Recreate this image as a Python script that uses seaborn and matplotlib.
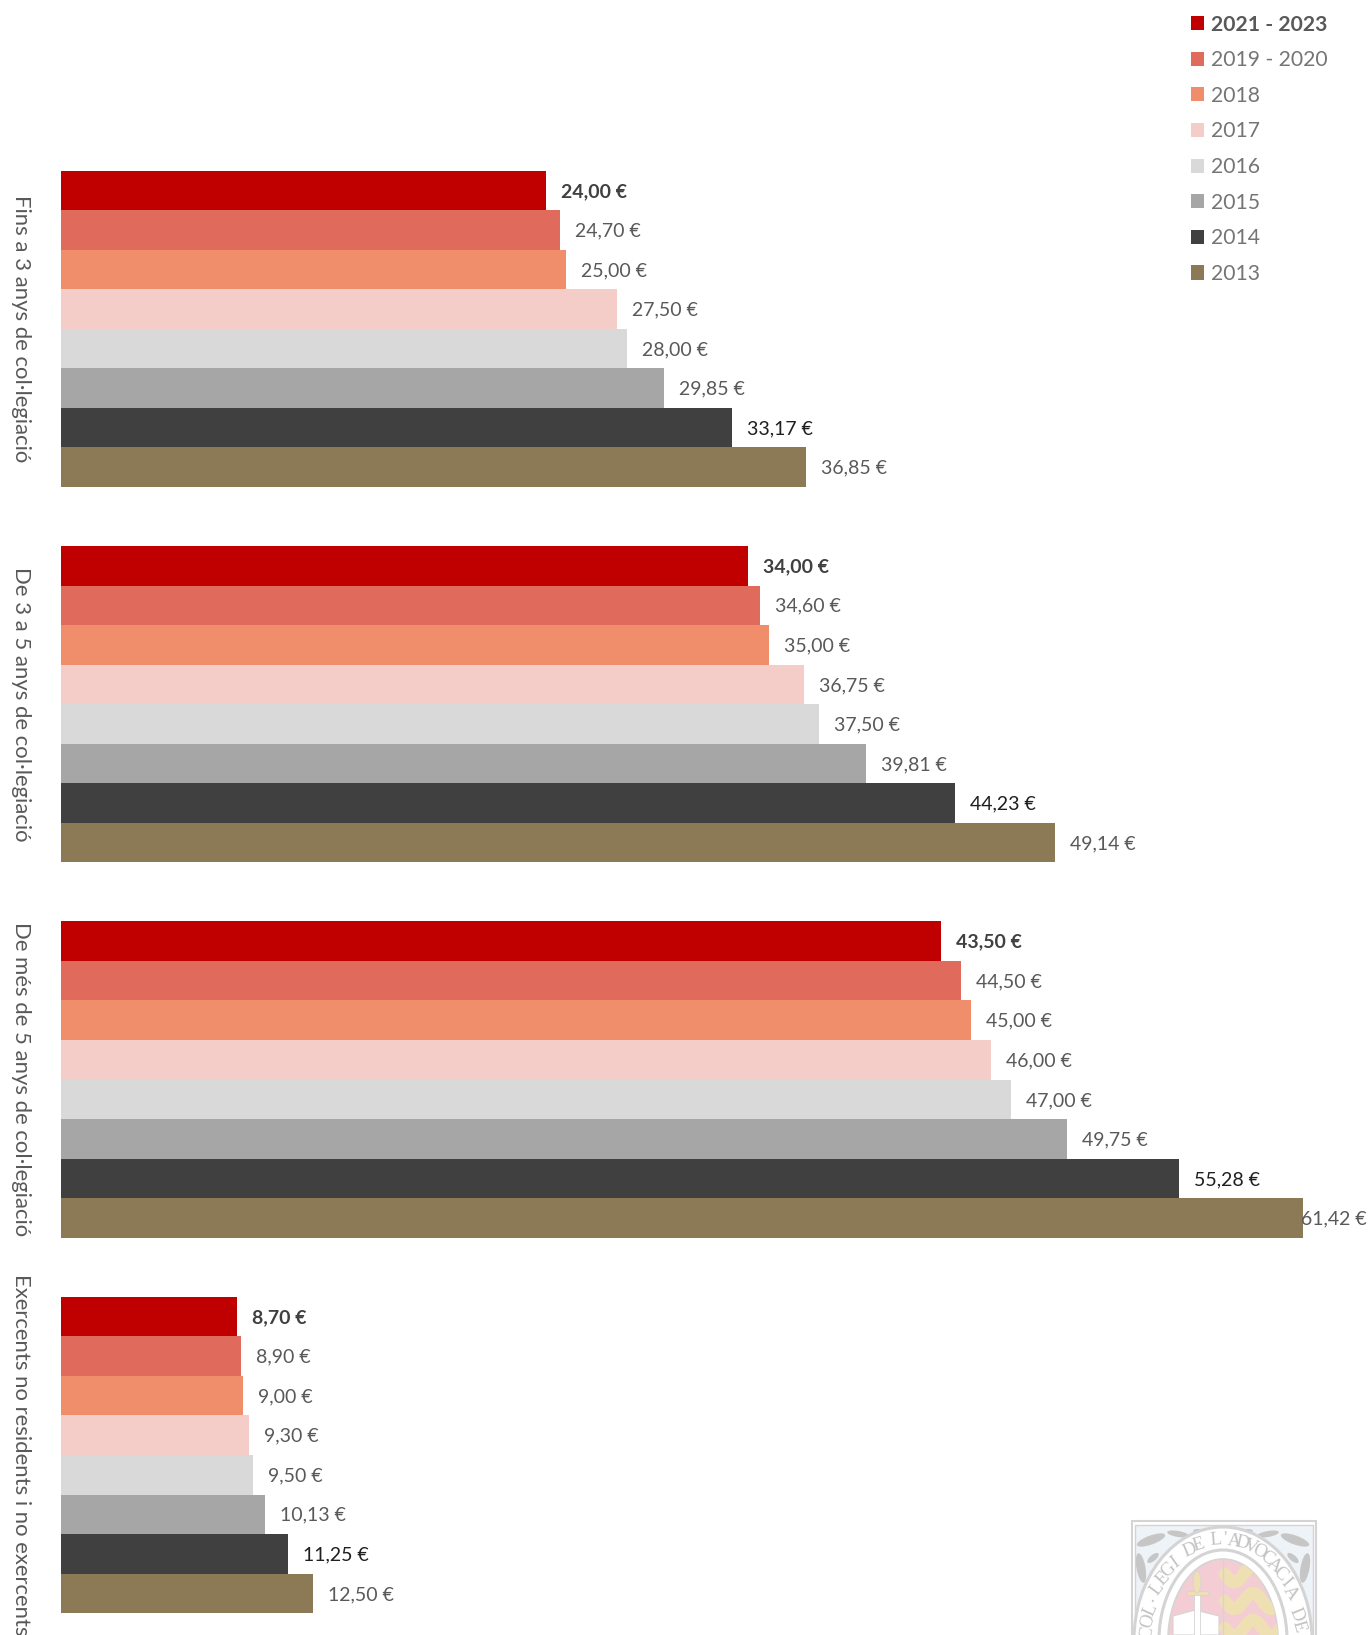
import numpy as np
import pandas as pd
import matplotlib
matplotlib.use("Agg")
import matplotlib.pyplot as plt
from matplotlib.patches import Ellipse, Rectangle, Polygon
import seaborn as sns

categories = ["Fins a 3 anys de col·legiació", "De 3 a 5 anys de col·legiació",
              "De més de 5 anys de col·legiació", "Exercents no residents i no exercents"]
periods = ["2021 - 2023", "2019 - 2020", "2018", "2017", "2016", "2015", "2014", "2013"]
v_2021_2023 = [24.00, 34.00, 43.50, 8.70]
v_2019_2020 = [24.70, 34.60, 44.50, 8.90]
v_2018 = [25.00, 35.00, 45.00, 9.00]
v_2017 = [27.50, 36.75, 46.00, 9.30]
v_2016 = [28.00, 37.50, 47.00, 9.50]
v_2015 = [29.85, 39.81, 49.75, 10.13]
v_2014 = [33.17, 44.23, 55.28, 11.25]
v_2013 = [36.85, 49.14, 61.42, 12.50]
series = [v_2021_2023, v_2019_2020, v_2018, v_2017, v_2016, v_2015, v_2014, v_2013]
colors = ["#C00000", "#E06B5C", "#F08D6A", "#F4CDC8", "#D9D9D9", "#A6A6A6", "#404040", "#8B7A55"]

df = pd.DataFrame([
    {"cat": c, "period": p, "value": vals[i]}
    for p, vals in zip(periods, series) for i, c in enumerate(categories)
])

W, H = 1370, 1635
sns.set_theme(style="white")
plt.rcParams["font.family"] = ["Lato", "DejaVu Sans"]
fig = plt.figure(figsize=(W / 100, H / 100), dpi=100, facecolor="white")

# watermark logo (decoration behind the chart)
bg = fig.add_axes([0, 0, 1, 1], zorder=0)
bg.set_xlim(0, W); bg.set_ylim(H, 0); bg.axis("off")
g = "#d4d4d4"
bg.add_patch(Rectangle((1132, 1521), 184, 130, fc="white", ec=g, lw=1.5))
bg.add_patch(Rectangle((1135, 1525), 178, 130, fc="#eef3f7", ec=g, lw=1))
cx, cy = 1223, 1640
for sx in (-1, 1):
    for dx, dy, w_, h_, a in [(72, -100, 30, 9, 20), (45, -106, 22, 6, -10), (82, -72, 9, 30, 10),
                              (70, -82, 14, 6, 40), (24, -109, 12, 4, 0)]:
        bg.add_patch(Ellipse((cx + sx * dx, cy + dy), w_, h_, angle=sx * a, fc="#c6c6c6", ec="none"))
bg.add_patch(Ellipse((cx, cy), 178, 226, fc="white", ec=g, lw=2.2))
bg.add_patch(Ellipse((cx, cy), 128, 180, fc="white", ec=g, lw=2.2))
shield = Ellipse((cx, cy), 110, 162, fc="#f3cdd3", ec=g, lw=1.2)
bg.add_patch(shield)
for yy in [1574, 1601, 1628]:
    t = np.linspace(0, 1, 30)
    wave = bg.plot(cx + 2 + 56 * t, yy + 8 * np.sin(t * 2 * np.pi * 1.5), color="#efe0b4", lw=9,
                   solid_capstyle="round")[0]
    wave.set_clip_path(shield)
bg.plot([cx, cx], [cy - 81, H], color=g, lw=1)
bg.add_patch(Polygon([[cx - 50, 1616], [cx - 28, 1610], [cx - 4, 1616], [cx - 4, H], [cx - 50, H]],
                     fc="white", ec=g, lw=.8))
bg.add_patch(Rectangle((cx - 29, 1593), 6, 45, fc="white", ec=g, lw=.6))
bg.add_patch(Rectangle((cx - 36, 1591), 21, 4, fc="#efe0b4", ec=g, lw=.6))
bg.add_patch(Ellipse((cx - 26, 1582), 8, 22, fc="#efe0b4", ec=g, lw=.6))
arc_text = "COL·LEGI DE L'ADVOCACIA DE"
angles = np.linspace(-86, 82, len(arc_text))
for ch, a in zip(arc_text, angles):
    r = np.deg2rad(a)
    bg.text(cx + 76 * np.sin(r), cy - 100 * np.cos(r), ch, rotation=-a * 0.9, ha="center", va="center",
            fontsize=13.5, family="Liberation Serif", color="#c4c4c4")

# chart
ax = fig.add_axes([60.5 / W, (H - 1642.7) / H, 1309.5 / W, 1501.6 / H], zorder=1)
ax.patch.set_alpha(0)
sns.barplot(data=df, y="cat", x="value", hue="period", order=categories, hue_order=periods,
            palette=colors, width=0.843, gap=0, saturation=1, dodge=True, errorbar=None, ax=ax, linewidth=0)
ax.set_xlim(0, 1309.5 / 20.23)
ax.set_ylim(3.5, -0.5)
ax.set_xlabel(""); ax.set_ylabel("")
ax.xaxis.set_visible(False)
sns.despine(ax=ax, left=True, bottom=True, top=True, right=True)
ax.tick_params(axis="y", length=0, pad=21)
for lab in ax.get_yticklabels():
    lab.set_rotation(270)
    lab.set_va("center")
    lab.set_fontsize(15.9)
    lab.set_color("#595959")

for k, (cont, p) in enumerate(zip(ax.containers, periods)):
    for b in cont.patches:
        val = b.get_width()
        txt = f"{val:.2f}".replace(".", ",") + " €"
        pad = -2 if val > 60 else 15
        col = "#404040" if k == 0 else ("#1f1f1f" if p == "2014" else "#595959")
        ax.annotate(txt, (val, b.get_y() + b.get_height() / 2), xytext=(pad, -1),
                    textcoords="offset pixels", va="center", ha="left", fontsize=14,
                    color=col, fontweight="bold" if k == 0 else "normal", annotation_clip=False)

leg = ax.get_legend()
handles = leg.legend_handles
leg.remove()
leg = fig.legend(handles, periods, loc="upper left", bbox_to_anchor=(1180 / W, 1 - 4.0 / H), frameon=False,
                 fontsize=15.2, labelspacing=0.74, handlelength=0.65, handleheight=0.65, handletextpad=0.33,
                 borderaxespad=0, borderpad=0.5)
for i, t in enumerate(leg.get_texts()):
    t.set_color("#595959" if i == 0 else "#757575")
    if i == 0:
        t.set_fontweight("bold")

fig.savefig("out.png", dpi=100, facecolor="white")
